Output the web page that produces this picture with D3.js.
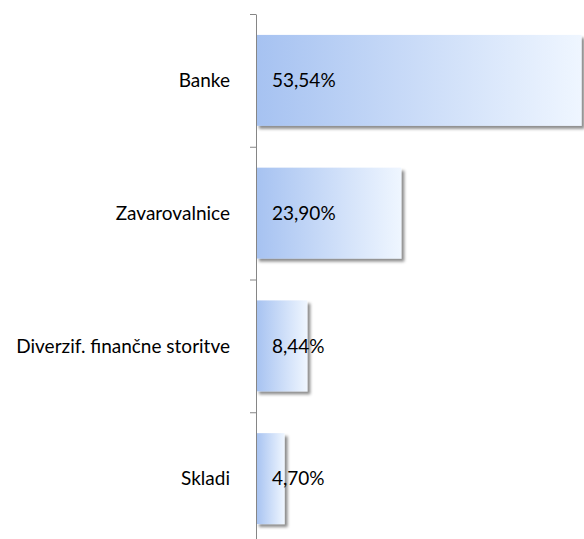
<!DOCTYPE html>
<html>
<head>
<meta charset="utf-8">
<script src="https://cdn.jsdelivr.net/npm/d3@7"></script>
<style>
  body { margin: 0; background: #fff; }
  svg { display: block; font-family: Lato, "Open Sans", sans-serif; }
</style>
</head>
<body>
<div id="chart"></div>
<script>
const categories = ["Banke", "Zavarovalnice", "Diverzif. finančne storitve", "Skladi"];
const values = [53.54, 23.90, 8.44, 4.70];
const valueLabels = ["53,54%", "23,90%", "8,44%", "4,70%"];

const data = categories.map((c, i) => ({ cat: c, val: values[i], label: valueLabels[i] }));

const width = 584,
      height = 539,
      margin = ({ top: 14, left: 256, bottom: -6 });

let svg = d3.select("#chart")
    .append("svg")
    .attr("width", width)
    .attr("height", height);

// gradient + shadow
let defs = svg.append("defs");
let grad = defs.append("linearGradient")
    .attr("id", "barGrad")
    .attr("x1", "0%").attr("x2", "100%")
    .attr("y1", "0%").attr("y2", "0%");
grad.append("stop").attr("offset", "0%").attr("stop-color", "#a6c2f1");
grad.append("stop").attr("offset", "100%").attr("stop-color", "#eff6ff");

let shadow = defs.append("filter")
    .attr("id", "shadow")
    .attr("x", "-10%").attr("y", "-10%")
    .attr("width", "130%").attr("height", "130%");
shadow.append("feDropShadow")
    .attr("dx", 3).attr("dy", 3)
    .attr("stdDeviation", 1.8)
    .attr("flood-color", "#000")
    .attr("flood-opacity", 0.45);

let y = d3.scaleBand() // bars
    .domain(categories)
    .range([margin.top, height - margin.bottom])
    .paddingInner(0.315)
    .paddingOuter(0.1575);

let yAxis = d3.scaleLinear() // category boundaries for ticks
    .domain([0, categories.length])
    .range([margin.top, height - margin.bottom]);

let x = d3.scaleLinear()
    .domain([0, 60])
    .range([margin.left, margin.left + 6.08 * 60]);

let bar = svg.selectAll(".bar")
    .data(data)
    .join("g")
    .attr("class", "bar");

bar.append("rect")
    .attr("x", x(0))
    .attr("y", d => y(d.cat))
    .attr("width", d => x(d.val) - x(0))
    .attr("height", y.bandwidth())
    .attr("fill", "url(#barGrad)")
    .attr("filter", "url(#shadow)");

// axis
let ax = svg.append("g")
    .attr("transform", `translate(${margin.left},0)`)
    .call(d3.axisLeft(yAxis).tickValues(d3.range(categories.length + 1)).tickFormat("").tickSize(6).tickSizeOuter(0));
ax.select(".domain").attr("stroke", "#868686");
ax.selectAll(".tick line").attr("stroke", "#868686");

bar.append("text")
    .text(d => d.label)
    .attr("x", x(0) + 16)
    .attr("y", d => y(d.cat) + y.bandwidth() / 2 + 2)
    .attr("dominant-baseline", "middle")
    .attr("font-size", 19)
    .attr("fill", "#000");

svg.append("g")
    .selectAll("text")
    .data(data)
    .join("text")
    .text(d => d.cat)
    .attr("x", margin.left - 26)
    .attr("y", d => y(d.cat) + y.bandwidth() / 2 + 2)
    .attr("text-anchor", "end")
    .attr("dominant-baseline", "middle")
    .attr("font-size", 19)
    .attr("fill", "#000");
</script>
</body>
</html>
